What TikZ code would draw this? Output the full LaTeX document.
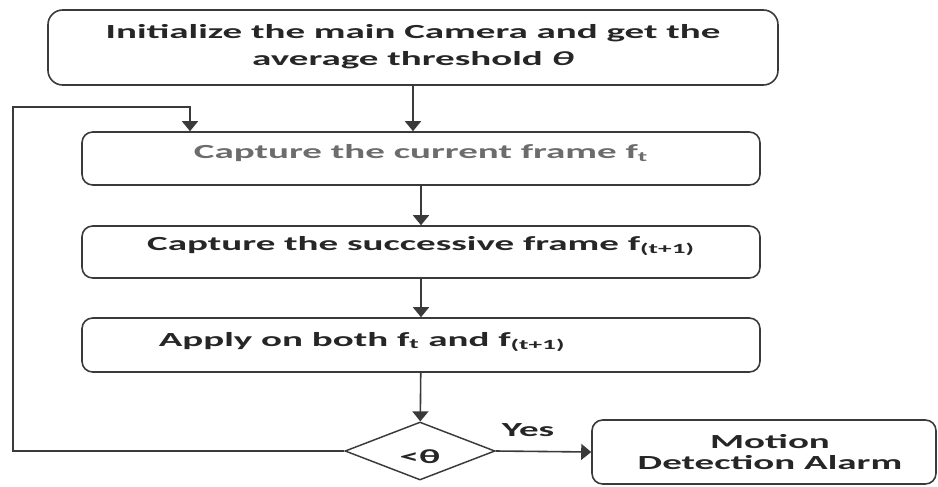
\documentclass[tikz,border=0pt]{standalone}
\usepackage{fontspec}
\setmainfont{Carlito}[FakeStretch=1.95,BoldFeatures={FakeStretch=1.95},BoldItalicFeatures={FakeStretch=1.95}]
\usetikzlibrary{arrows.meta,positioning,shapes.geometric}
\definecolor{ink}{HTML}{262626}
\definecolor{edge}{HTML}{3A3A3A}
\begin{document}
\begin{tikzpicture}[x=0.75pt,y=-0.75pt,
      every node/.style={font=\fontsize{15}{19}\selectfont\bfseries,text=ink},
      box/.style={draw=edge,line width=1.2pt,rounded corners=8pt,inner sep=0pt},
      arr/.style={draw=edge,line width=1.2pt,-{Triangle[width=12pt,length=7.5pt]}}]
    \useasboundingbox (0,0) rectangle (938,486);
    % boxes
    \node[box,rounded corners=11pt,minimum width=547.5pt,minimum height=56.25pt] (init) at (413,47.5) {};
    \node[box,minimum width=508.5pt,minimum height=39.75pt] (cur) at (421,158.5) {};
    \node[box,minimum width=508.5pt,minimum height=39pt] (succ) at (421,252) {};
    \node[box,minimum width=508.5pt,minimum height=40.5pt] (apply) at (421,345) {};
    \node[draw=edge,line width=1.1pt,diamond,inner sep=0pt,minimum width=112.5pt,minimum height=43.5pt] (dec) at (420,451) {};
    \node[box,minimum width=258pt,minimum height=48pt] (alarm) at (764,452) {};
    % texts
    \node (initA) at (413,33) {Initialize the main Camera and get the};
    \node (initB) at (413,60) {average threshold \textit{θ}};
    \node[text=gray!85!black] (curT) at (421,153) {Capture the current frame f\textsubscript{t}};
    \node (succT) at (421,246) {Capture the successive frame f\textsubscript{(t+1)}};
    \node (applyT) at (362,342) {Apply on both f\textsubscript{t} and f\textsubscript{(t+1)}};
    \node (decT) at (420,457) {<θ};
    \node (alarmA) at (770,442) {Motion};
    \node (alarmB) at (770,463) {Detection Alarm};
    \node (yes) at (528,430) {Yes};
    % connectors
    \coordinate (loopL) at (13,107);
    \coordinate (loopR) at (190,107);
    \draw[arr] (init) -- (init |- cur.north);
    \draw[arr] (cur) -- (succ);
    \draw[arr] (succ) -- (apply);
    \draw[arr] (apply) -- (dec);
    \draw[arr] (dec.west) -| (loopL) -- (loopR) -- (loopR |- cur.north);
    \draw[arr] (dec.east) -- (alarm.west);
  \end{tikzpicture}
\end{document}
